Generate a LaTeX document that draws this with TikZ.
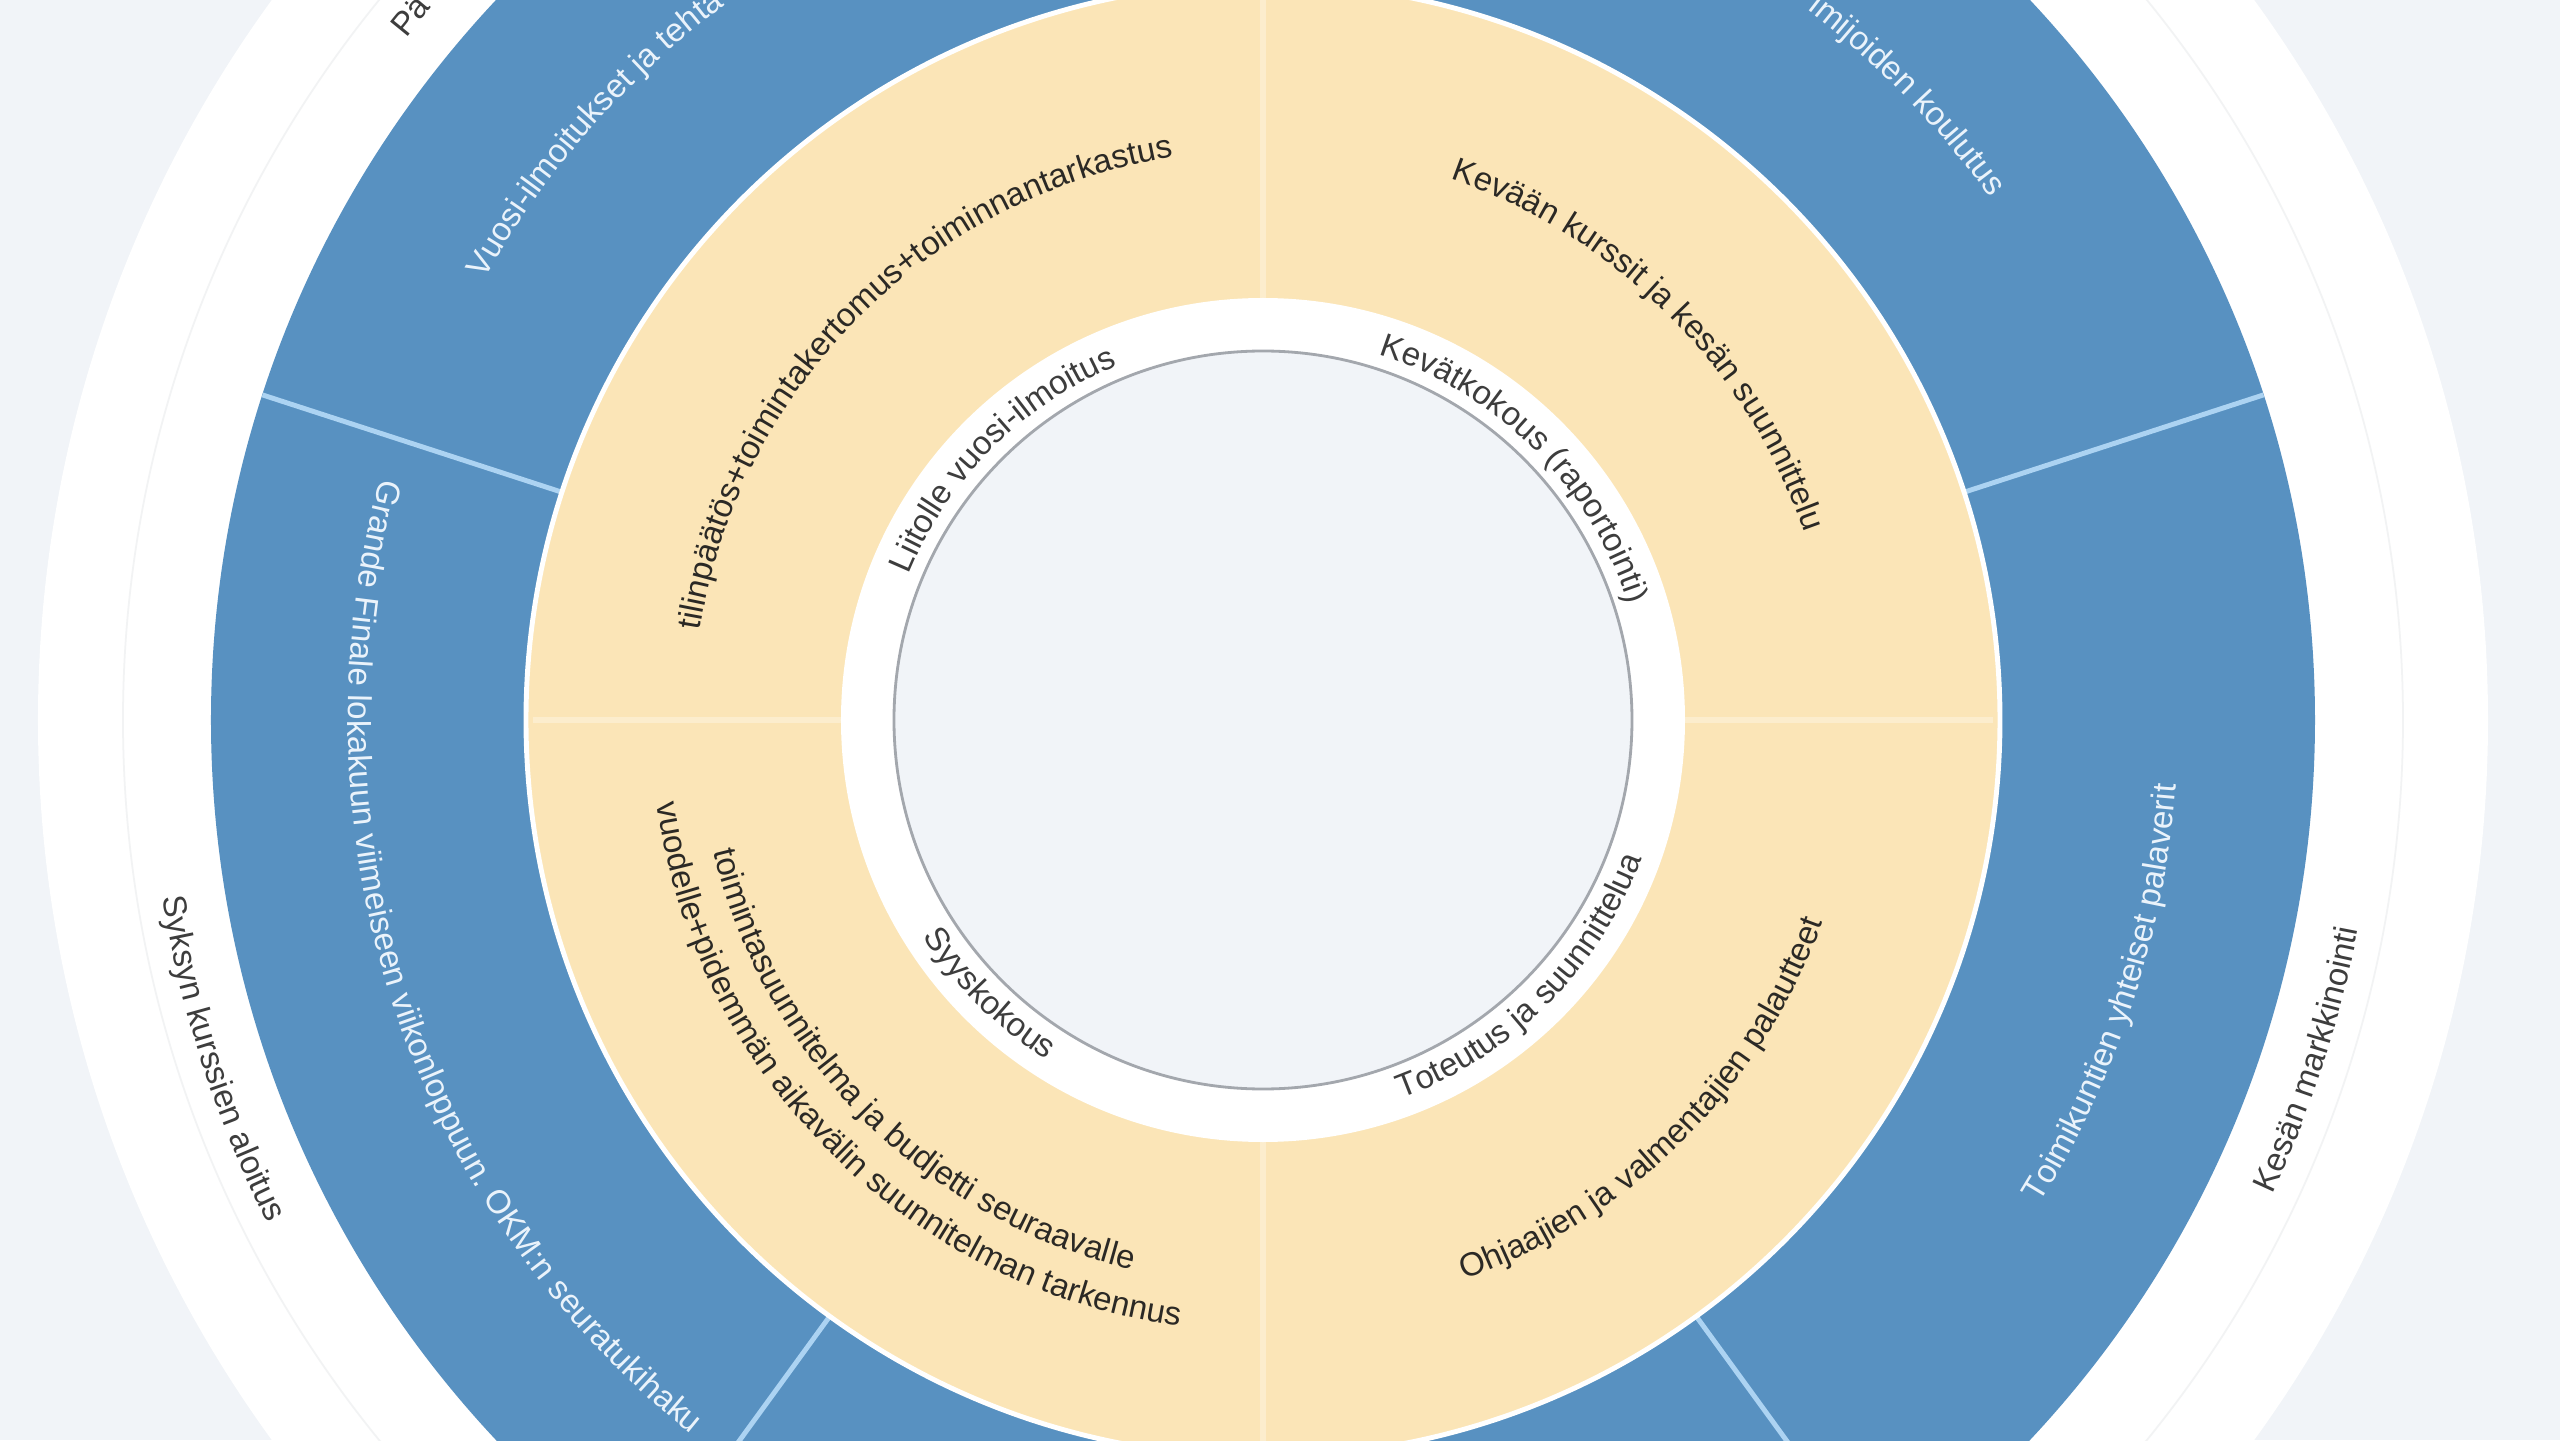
\documentclass[tikz,border=0pt]{standalone}
\usepackage{fontspec}
\setmainfont{Liberation Sans}
\usetikzlibrary{decorations.text}
\definecolor{bgcol}{HTML}{F1F4F8}
\definecolor{ringblue}{HTML}{5891C1}
\definecolor{ringsand}{HTML}{FBE5B7}
\definecolor{sandline}{HTML}{FCEDCD}
\definecolor{blueline}{HTML}{ACD3F2}
\definecolor{hubline}{HTML}{A3A7AD}
\definecolor{labelgray}{HTML}{3D3D3D}
\definecolor{labeldark}{HTML}{2B2925}
\definecolor{bluetext}{HTML}{EAF3FB}
\begin{document}
\begin{tikzpicture}[
        ringtext/.style 2 args={decorate, decoration={text along path, text align=center,
            text={|\fontsize{9.4}{11}\selectfont\color{#1}|#2}}}]
    \useasboundingbox (-12.63,-7.2) rectangle (12.97,7.2);
    \clip (-12.63,-7.2) rectangle (12.97,7.2);
    \fill [bgcol] (-12.63,-7.2) rectangle (12.97,7.2);
    % rings from the outside in
    \fill [white] (0,0) circle (12.25);
    \draw [hubline!14, line width=0.5pt] (0,0) circle (11.4);
    \fill [ringblue] (0,0) circle (10.52);
    \foreach \a in {18,90,...,306}
        \draw [blueline, line width=1.4pt] (\a:7.37) -- (\a:10.52);
    \draw [white, line width=1.4pt, fill=ringsand] (0,0) circle (7.37);
    \foreach \a in {0,90,180,270}
        \draw [sandline, line width=1.6pt] (\a:4.22) -- (\a:7.3);
    \fill [white] (0,0) circle (4.22);
    \draw [hubline, line width=0.8pt, fill=bgcol] (0,0) circle (3.69);
    % inner ring
    \path [ringtext={labelgray}{Liitolle vuosi-ilmoitus}] (175:3.83) arc [start angle=175, end angle=95, radius=3.83];
    \path [ringtext={labelgray}{Kevätkokous (raportointi)}] (85:3.83) arc [start angle=85, end angle=5, radius=3.83];
    \path [ringtext={labelgray}{Syyskokous}] (185:4.03) arc [start angle=185, end angle=265, radius=4.03];
    \path [ringtext={labelgray}{Toteutus ja suunnittelua}] (275:4.03) arc [start angle=275, end angle=355, radius=4.03];
    % yellow ring
    \path [ringtext={labeldark}{tilinpäätös+toimintakertomus+toiminnantarkastus}] (190:5.7) arc [start angle=190, end angle=80, radius=5.7];
    \path [ringtext={labeldark}{Kevään kurssit ja kesän suunnittelu}] (100:5.73) arc [start angle=100, end angle=-10, radius=5.73];
    \path [ringtext={labeldark}{toimintasuunnitelma ja budjetti seuraavalle}] (170:5.65) arc [start angle=170, end angle=280, radius=5.65];
    \path [ringtext={labeldark}{vuodelle+pidemmän aikavälin suunnitelman tarkennus}] (170:6.12) arc [start angle=170, end angle=280, radius=6.12];
    \path [ringtext={labeldark}{Ohjaajien ja valmentajien palautteet}] (260:5.95) arc [start angle=260, end angle=370, radius=5.95];
    % blue ring
    \path [ringtext={bluetext}{Vuosi-ilmoitukset ja tehtä}, decoration={text align=left}] (150.5:8.95) arc [start angle=150.5, end angle=100, radius=8.95];
    \path [ringtext={bluetext}{imijoiden koulutus}, decoration={text align=right}] (80:8.95) arc [start angle=80, end angle=35.7, radius=8.95];
    \path [ringtext={bluetext}{Grande Finale lokakuun viimeiseen viikonloppuun. OKM:n seuratukihaku}] (140:9.15) arc [start angle=140, end angle=256, radius=9.15];
    \path [ringtext={bluetext}{Toimikuntien yhteiset palaverit}] (300:9.15) arc [start angle=300, end angle=384, radius=9.15];
    % outer ring
    \path [ringtext={labelgray}{Pä}, decoration={text align=left}] (141.5:10.95) arc [start angle=141.5, end angle=120, radius=10.95];
    \path [ringtext={labelgray}{Syksyn kurssien aloitus}] (170:11.15) arc [start angle=170, end angle=226, radius=11.15];
    \path [ringtext={labelgray}{Kesän markkinointi}] (314:11.15) arc [start angle=314, end angle=370, radius=11.15];
\end{tikzpicture}
\end{document}
